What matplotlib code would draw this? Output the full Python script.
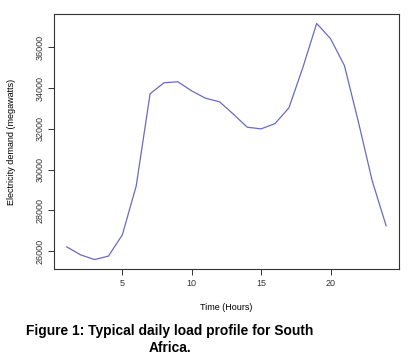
import numpy as np
import matplotlib
matplotlib.use("Agg")
import matplotlib.pyplot as plt

plt.rcParams['font.family'] = ['Liberation Sans', 'DejaVu Sans']

# hourly demand
hours = list(range(1, 25))
demand = [26210, 25820, 25590, 25760, 26800, 29200, 33720, 34260, 34310, 33860,
          33500, 33330, 32720, 32080, 32000, 32260, 33030, 35000, 37170, 36420,
          35100, 32350, 29450, 27250]
xticks = [5, 10, 15, 20]
yticks = [26000, 28000, 30000, 32000, 34000, 36000]

fig = plt.figure(figsize=(4.13, 3.57), dpi=100)
ax = fig.add_axes([0.1308, 0.2465, 0.835, 0.7143])
ax.plot(hours, demand, color='#6a6ac4', lw=0.9)

pad_x = (max(hours) - min(hours)) * 0.04
pad_y = (max(demand) - min(demand)) * 0.04
ax.set_xlim(min(hours) - pad_x, max(hours) + pad_x)
ax.set_ylim(min(demand) - pad_y, max(demand) + pad_y)

ax.set_xticks(xticks)
ax.set_yticks(yticks)
ax.set_yticklabels([str(v) for v in yticks], rotation=90, va='center')
ax.tick_params(labelsize=6.5, length=4, width=0.7, colors='#333333', pad=3)
for s in ax.spines.values():
    s.set_linewidth(0.8)
    s.set_color('#333333')

ax.set_xlabel('Time (Hours)', fontsize=6.5, labelpad=11)
ax.set_ylabel('Electricity demand (megawatts)', fontsize=6.5, labelpad=14)

fig.text(0.412, 0.05, 'Figure 1: Typical daily load profile for South\nAfrica.',
         ha='center', va='center', fontsize=9.9, fontweight='bold', linespacing=1.3)

fig.savefig('out.png', dpi=100)
